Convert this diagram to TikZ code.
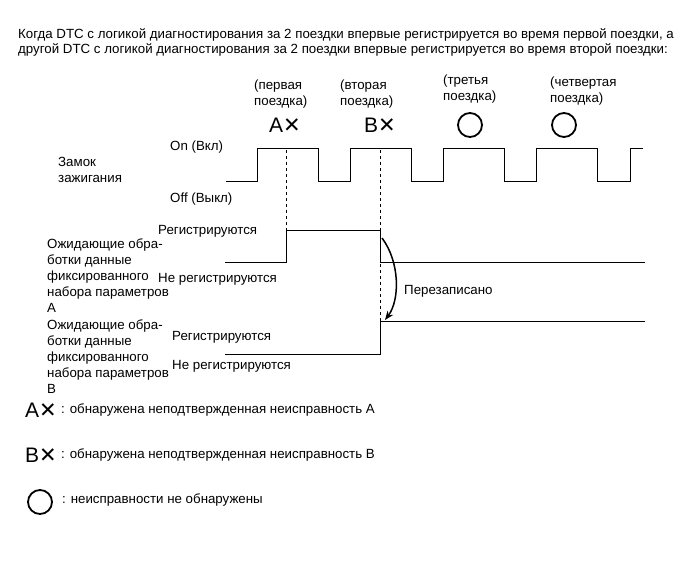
\documentclass[tikz,border=0pt]{standalone}
\usepackage{fontspec}
\setmainfont{Liberation Sans}
\newfontfamily\symfont{DejaVu Sans}
\usetikzlibrary{positioning,arrows.meta}

\tikzset{
  txt/.style={font=\fontsize{13.3}{16}\selectfont, inner sep=0pt, anchor=west},
  block/.style={txt, align=left},
  tripmark/.style={inner sep=0pt, font=\fontsize{21}{21}\selectfont},
  okmark/.style={circle, draw, line width=1.8pt, minimum size=24pt, inner sep=0pt},
  wave/.style={line width=1pt},
  guide/.style={dashed, line width=0.6pt},
}

\begin{document}
\begin{tikzpicture}[x=1pt,y=-1pt]
    \useasboundingbox (0,0) rectangle (691,564);

    % Heading
    \node[txt] (head1) at (18,35) {Когда DTC с логикой диагностирования за 2 поездки впервые регистрируется во время первой поездки, а};
    \node[txt] (head2) at (18,50) {другой DTC с логикой диагностирования за 2 поездки впервые регистрируется во время второй поездки:};

    % Trip labels
    \node[block] (trip1) at (254,94) {(первая\\поездка)};
    \node[block] (trip2) at (340,94) {(вторая\\поездка)};
    \node[block] (trip3) at (443,89) {(третья\\поездка)};
    \node[block] (trip4) at (550,91) {(четвертая\\поездка)};

    % Trip results
    \node[tripmark] (resA) at (285,125) {A{\symfont ✕}};
    \node[tripmark] (resB) at (380,125) {B{\symfont ✕}};
    \node[okmark] (res3) at (470,125) {};
    \node[okmark] (res4) at (564,125) {};

    % Ignition switch
    \node[block] (ign) at (58,170) {Замок\\зажигания};
    \node[txt] (ignOn) at (170,147) {On (Вкл)};
    \node[txt] (ignOff) at (170,199) {Off (Выкл)};
    \draw[wave] (226,182) -- (257,182) -- (257,149) -- (318,149) -- (318,182)
        -- (350,182) -- (350,149) -- (411,149) -- (411,182)
        -- (443,182) -- (443,149) -- (504,149) -- (504,182)
        -- (536,182) -- (536,149) -- (597,149) -- (597,182)
        -- (630,182) -- (630,149) -- (643,149);

    % Freeze frame A
    \node[block] (ffA) at (47,276) {Ожидающие обра-\\ботки данные\\фиксированного\\набора параметров\\А};
    \node[txt] (regA) at (158,231) {Регистрируются};
    \node[txt] (noregA) at (158,279) {Не регистрируются};
    \draw[wave] (225,263) -- (286,263) -- (286,231) -- (380,231) -- (380,263) -- (645,263);

    % Freeze frame B
    \node[block] (ffB) at (47,357) {Ожидающие обра-\\ботки данные\\фиксированного\\набора параметров\\В};
    \node[txt] (regB) at (172,337) {Регистрируются};
    \node[txt] (noregB) at (172,366) {Не регистрируются};
    \draw[wave] (225,354) -- (380,354) -- (380,321) -- (645,321);

    % Trip guides
    \coordinate (g1) at (286,150);
    \coordinate (g1end) at (286,231);
    \coordinate (g2) at (380,150);
    \coordinate (g2end) at (380,321);
    \draw[guide] (g1) -- (g1end);
    \draw[guide] (g2) -- (g2end);

    % Overwrite arrow
    \coordinate (owFrom) at (382,238);
    \coordinate (owTo) at (385,320);
    \draw[line width=1.5pt,-{Stealth[length=9pt,width=7pt]}] (owFrom) .. controls (400,262) and (400,300) .. (owTo);
    \node[txt] (ow) at (404,291) {Перезаписано};

    % Legend
    \node[tripmark] (legA) at (41,410) {A{\symfont ✕}};
    \node[txt, right=4pt of legA] {: обнаружена неподтвержденная неисправность А};
    \node[tripmark] (legB) at (41,455) {B{\symfont ✕}};
    \node[txt, right=4pt of legB] {: обнаружена неподтвержденная неисправность В};
    \node[okmark] (legO) at (40,502) {};
    \node[txt] (legOtxt) at (62,500) {: неисправности не обнаружены};
\end{tikzpicture}
\end{document}
